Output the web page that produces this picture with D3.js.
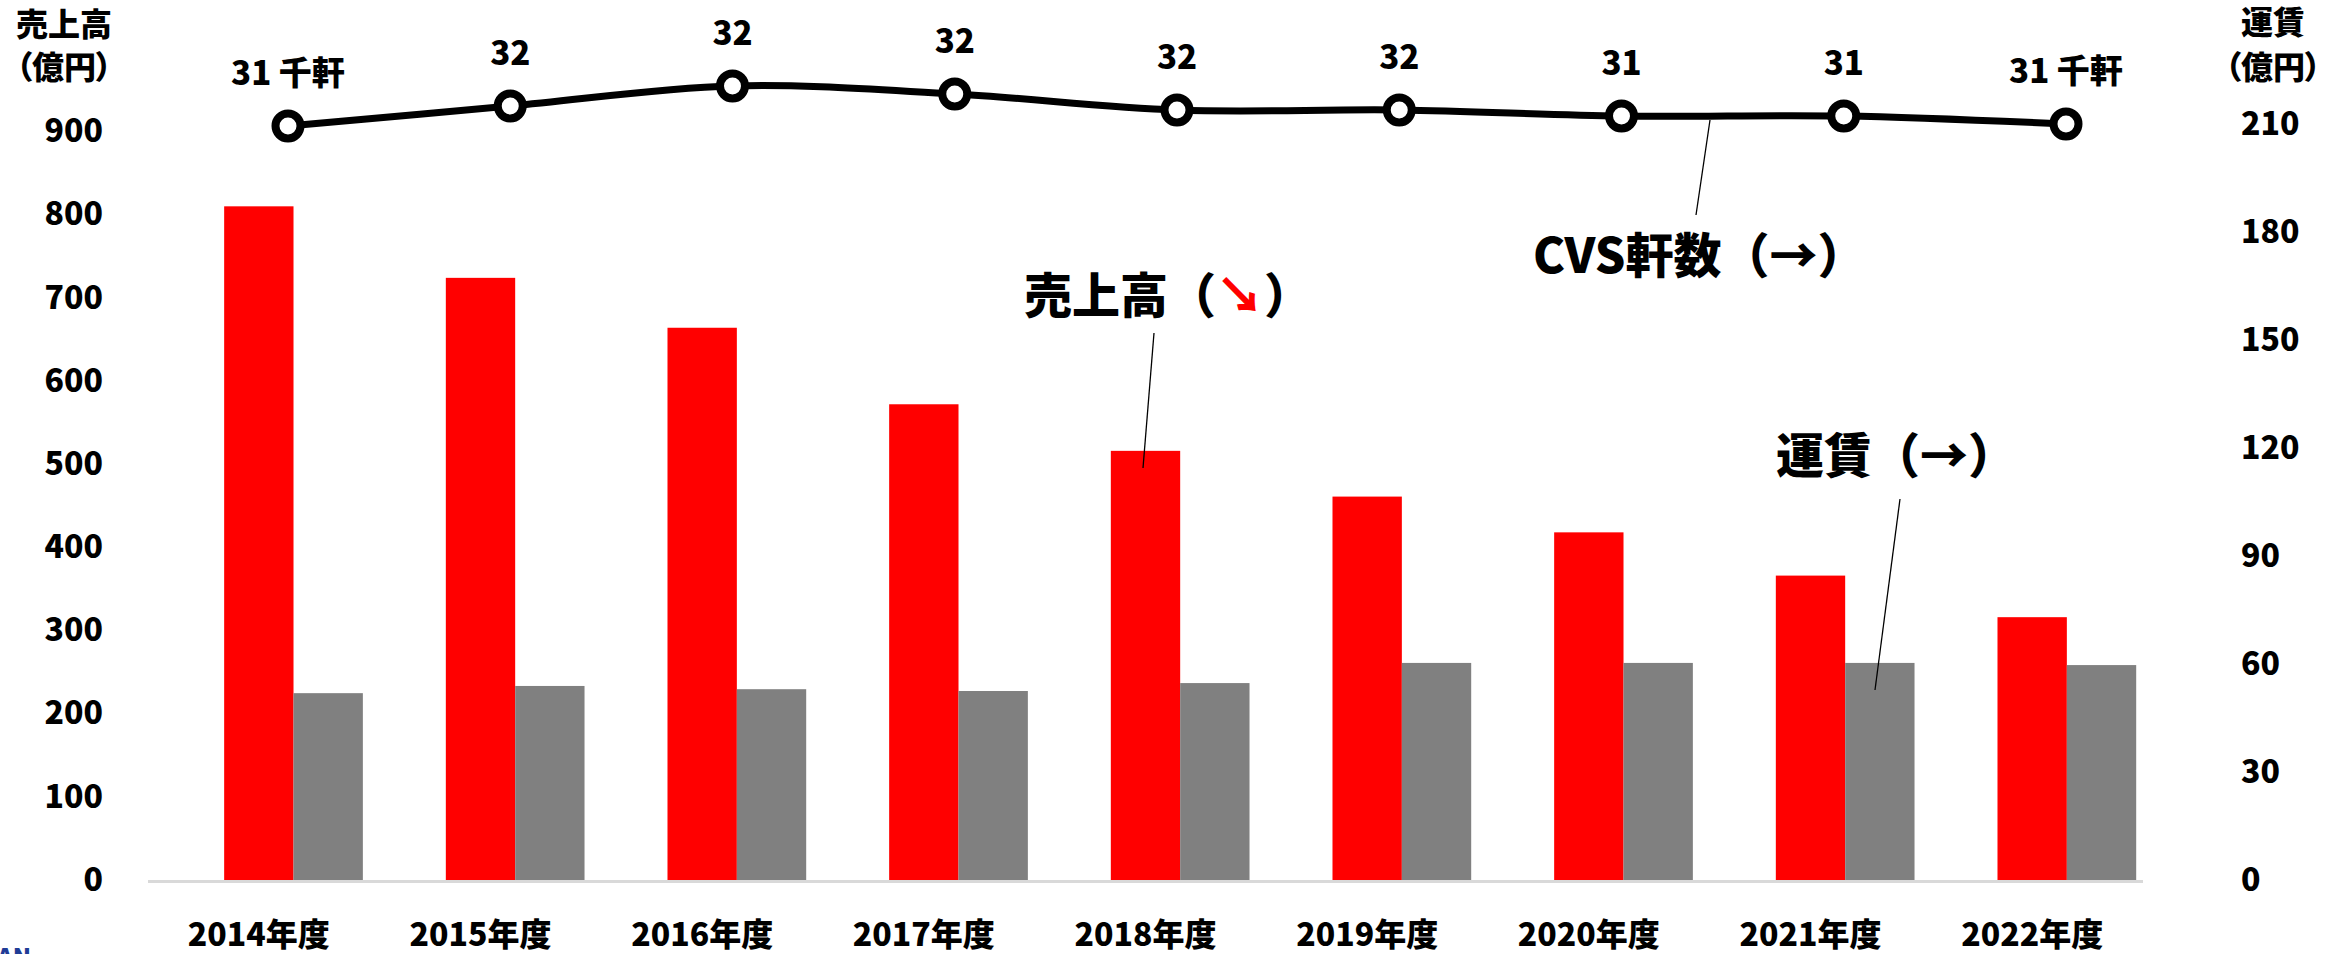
<!DOCTYPE html>
<html lang="ja">
<head>
<meta charset="UTF-8">
<title>売上高・運賃・CVS軒数</title>
<script src="https://d3js.org/d3.v7.min.js"></script>
<style>
    body { margin: 0; background: #fff; }
    svg { display: block; font-family: "Noto Sans CJK JP", "Noto Sans", sans-serif; font-weight: 900; }
    .palt { font-feature-settings: "palt"; }
</style>
</head>
<body>
<svg id="chart" width="2348" height="954"></svg>
<script>
// データ
const years = ["2014年度", "2015年度", "2016年度", "2017年度", "2018年度", "2019年度", "2020年度", "2021年度", "2022年度"];
const sales = [810, 724, 664, 572, 516, 461, 418, 366, 316];          // 売上高（億円）左軸
const fares = [51.9, 53.9, 53.0, 52.5, 54.7, 60.3, 60.3, 60.3, 59.7];   // 運賃（億円）右軸
const cvsCount = [31.2, 31.7, 32.2, 32.0, 31.6, 31.6, 31.45, 31.45, 31.25]; // CVS軒数（千軒）
const leftTicks = [0, 100, 200, 300, 400, 500, 600, 700, 800, 900];
const rightTicks = [0, 30, 60, 90, 120, 150, 180, 210];

const svg = d3.select("#chart");

// 座標
const plotLeft = 148, plotRight = 2143, baseY = 880;

const x0 = d3.scaleBand()
    .domain(years)
    .range([plotLeft, plotRight])
    .paddingInner(0.0614)
    .paddingOuter(0.0307);

// 先頭は空きスロット（赤が項目中央にくる）
const x1 = d3.scaleBand()
    .domain(["blank", "sales", "fare"])
    .range([0, x0.bandwidth()]);

// 折れ線の横位置
const xLine = d3.scalePoint().domain(years).range([288, 2066]);

const yLeft = d3.scaleLinear().domain([0, 1000]).range([baseY, baseY - 831.7]);
const yRight = d3.scaleLinear().domain([0, 240]).range([baseY, baseY - 864]);
const yCvs = d3.scaleLinear().domain([31, 32]).range([134, 94]);

// 棒グラフ
svg.append("g").selectAll("rect")
    .data(years)
    .join("rect")
    .attr("x", d => x0(d) + x1("sales"))
    .attr("y", (d, i) => yLeft(sales[i]))
    .attr("width", x1.bandwidth())
    .attr("height", (d, i) => baseY - yLeft(sales[i]))
    .attr("fill", "#ff0000");

svg.append("g").selectAll("rect")
    .data(years)
    .join("rect")
    .attr("x", d => x0(d) + x1("fare"))
    .attr("y", (d, i) => yRight(fares[i]))
    .attr("width", x1.bandwidth())
    .attr("height", (d, i) => baseY - yRight(fares[i]))
    .attr("fill", "#808080");

// 横軸の線
svg.append("line")
    .attr("x1", plotLeft).attr("x2", plotRight)
    .attr("y1", baseY + 1.5).attr("y2", baseY + 1.5)
    .attr("stroke", "#d9d9d9")
    .attr("stroke-width", 3);

// 軸
const xAxis = svg.append("g")
    .attr("transform", `translate(0,${baseY})`)
    .call(d3.axisBottom(x0).tickSize(0).tickPadding(43));

const leftAxis = svg.append("g")
    .attr("transform", `translate(${plotLeft + 2},0)`)
    .call(d3.axisLeft(yLeft).tickValues(leftTicks).tickSize(0).tickPadding(47));

const rightAxis = svg.append("g")
    .attr("transform", `translate(${plotRight},0)`)
    .call(d3.axisRight(yRight).tickValues(rightTicks).tickSize(0).tickPadding(98));

[xAxis, leftAxis, rightAxis].forEach(g => {
    g.select(".domain").remove();
    g.selectAll("text")
        .attr("fill", "#000")
        .style("font-family", "'Noto Sans CJK JP', sans-serif")
        .style("font-weight", 900)
        .style("font-size", "32px");
});

// 軸タイトル
const titles = svg.append("g")
    .attr("class", "palt")
    .attr("font-size", 32)
    .attr("text-anchor", "middle");
titles.append("text").attr("x", 64).attr("y", 36).text("売上高");
titles.append("text").attr("x", 64).attr("y", 79).text("（億円）");
titles.append("text").attr("x", 2273).attr("y", 34).text("運賃");
titles.append("text").attr("x", 2273).attr("y", 79).text("（億円）");

// CVS軒数の折れ線
const line = d3.line()
    .x(d => xLine(d))
    .y((d, i) => yCvs(cvsCount[i]))
    .curve(d3.curveCatmullRom.alpha(0.5));

svg.append("path")
    .datum(years)
    .attr("d", line)
    .attr("fill", "none")
    .attr("stroke", "#000")
    .attr("stroke-width", 7);

svg.append("g").selectAll("circle")
    .data(years)
    .join("circle")
    .attr("cx", d => xLine(d))
    .attr("cy", (d, i) => yCvs(cvsCount[i]))
    .attr("r", 12.5)
    .attr("fill", "#fff")
    .attr("stroke", "#000")
    .attr("stroke-width", 8);

svg.append("g").selectAll("text")
    .data(years)
    .join("text")
    .attr("x", d => xLine(d))
    .attr("y", (d, i) => yCvs(cvsCount[i]) - 41)
    .attr("text-anchor", "middle")
    .attr("font-size", 33)
    .text((d, i) => d3.format(".0f")(cvsCount[i]) + (i === 0 || i === years.length - 1 ? " 千軒" : ""));

// 注記
const notes = svg.append("g").attr("font-size", 48);
const salesNote = notes.append("text").attr("x", 1024).attr("y", 313);
salesNote.append("tspan").text("売上高（");
salesNote.append("tspan").attr("fill", "#ff0000").text("↘");
salesNote.append("tspan").text("）");
notes.append("text").attr("x", 1533).attr("y", 273).text("CVS軒数（→）");
notes.append("text").attr("x", 1776).attr("y", 473).text("運賃（→）");

const leaders = [
    [1154, 333, 1143, 468],
    [1710, 120, 1696, 215],
    [1900, 499, 1875, 690]
];
svg.append("g").selectAll("line")
    .data(leaders)
    .join("line")
    .attr("x1", d => d[0]).attr("y1", d => d[1])
    .attr("x2", d => d[2]).attr("y2", d => d[3])
    .attr("stroke", "#000")
    .attr("stroke-width", 1.3);

// 左下のロゴの切れ端
svg.append("text")
    .attr("x", -3).attr("y", 966)
    .attr("font-size", 24)
    .attr("fill", "#1f3c96")
    .text("AN");
</script>
</body>
</html>
